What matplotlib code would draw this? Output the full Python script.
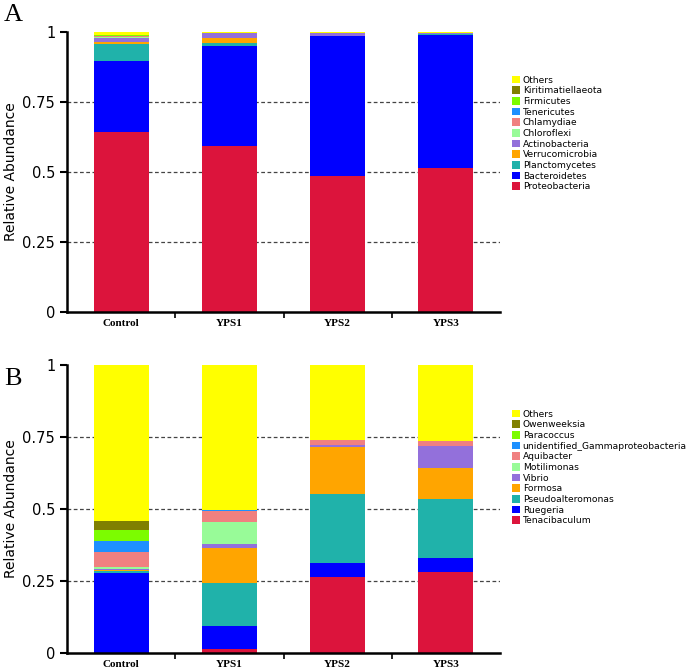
"""
Relative abundance stacked bars: phylum level (A) and genus level (B)
"""
import matplotlib.pyplot as plt
from matplotlib.patches import Patch
import numpy as np

samples = ['Control', 'YPS1', 'YPS2', 'YPS3']

# Panel A - phyla (bottom to top)
phyla = ['Proteobacteria', 'Bacteroidetes', 'Planctomycetes', 'Verrucomicrobia',
         'Actinobacteria', 'Chloroflexi', 'Chlamydiae', 'Tenericutes',
         'Firmicutes', 'Kiritimatiellaeota', 'Others']
proteobacteria = [0.643, 0.594, 0.486, 0.515]
bacteroidetes = [0.253, 0.357, 0.500, 0.476]
planctomycetes = [0.062, 0.008, 0.001, 0.003]
verrucomicrobia = [0.005, 0.020, 0.000, 0.000]
actinobacteria = [0.014, 0.016, 0.010, 0.002]
chloroflexi = [0.006, 0.001, 0.001, 0.001]
chlamydiae = [0.003, 0.001, 0.000, 0.000]
tenericutes = [0.001, 0.000, 0.000, 0.000]
firmicutes = [0.002, 0.001, 0.000, 0.000]
kiritimatiellaeota = [0.001, 0.000, 0.000, 0.000]
others_a = [0.010, 0.002, 0.002, 0.003]
phyla_values = [proteobacteria, bacteroidetes, planctomycetes, verrucomicrobia,
                actinobacteria, chloroflexi, chlamydiae, tenericutes,
                firmicutes, kiritimatiellaeota, others_a]

# Panel B - genera (bottom to top)
genera = ['Tenacibaculum', 'Ruegeria', 'Pseudoalteromonas', 'Formosa', 'Vibrio',
          'Motilimonas', 'Aquibacter', 'unidentified_Gammaproteobacteria',
          'Paracoccus', 'Owenweeksia', 'Others']
tenacibaculum = [0.000, 0.013, 0.265, 0.282]
ruegeria = [0.277, 0.081, 0.049, 0.047]
pseudoalteromonas = [0.006, 0.148, 0.239, 0.205]
formosa = [0.006, 0.124, 0.161, 0.108]
vibrio = [0.004, 0.013, 0.009, 0.078]
motilimonas = [0.007, 0.077, 0.000, 0.000]
aquibacter = [0.052, 0.037, 0.015, 0.017]
gammaproteobacteria = [0.037, 0.002, 0.000, 0.000]
paracoccus = [0.038, 0.000, 0.000, 0.000]
owenweeksia = [0.031, 0.000, 0.000, 0.000]
others_b = [0.542, 0.505, 0.262, 0.263]
genera_values = [tenacibaculum, ruegeria, pseudoalteromonas, formosa, vibrio,
                 motilimonas, aquibacter, gammaproteobacteria, paracoccus,
                 owenweeksia, others_b]

colors = ['#DC143C', '#0000FF', '#20B2AA', '#FFA500', '#9370DB', '#98FB98',
          '#F08080', '#1E90FF', '#7CFC00', '#808000', '#FFFF00']


def draw_panel(fig, rect, names, values, legend_top, letter, letter_y):
    ax = fig.add_axes(rect)
    x = np.arange(len(samples))
    for yv in [0.25, 0.5, 0.75]:
        ax.axhline(yv, color='#444444', linestyle=(0, (3, 2)), linewidth=0.9, zorder=0)
    bottom = np.zeros(len(samples))
    for vals, c in zip(values, colors):
        ax.bar(x, vals, width=0.51, bottom=bottom, color=c, linewidth=0, zorder=2)
        bottom += np.array(vals)

    ax.set_xlim(-0.5, 3.5)
    ax.set_ylim(0, 1)
    ax.set_yticks([0, 0.25, 0.5, 0.75, 1])
    ax.set_yticklabels(['0', '0.25', '0.5', '0.75', '1'])
    ax.tick_params(axis='y', labelsize=10.5, length=5, width=1.5, direction='out')
    ax.set_xticks(x)
    ax.set_xticklabels(samples, fontfamily='Liberation Serif', fontweight='bold', fontsize=8)
    ax.tick_params(axis='x', which='major', length=0, pad=5)
    ax.set_xticks([0.5, 1.5, 2.5], minor=True)
    ax.tick_params(axis='x', which='minor', length=4, width=1.2, direction='out')
    ax.set_ylabel('Relative Abundance', fontsize=10, labelpad=3)
    for s in ['top', 'right']:
        ax.spines[s].set_visible(False)
    ax.spines['left'].set_linewidth(1.8)
    ax.spines['bottom'].set_linewidth(1.8)

    handles = [Patch(facecolor=c, edgecolor='none') for c in colors]
    fig.legend(handles[::-1], names[::-1], loc='upper left',
               bbox_to_anchor=(508 / 694, legend_top), frameon=False,
               fontsize=6.6, handlelength=0.9, handleheight=0.9,
               handletextpad=0.3, labelspacing=0.18, borderaxespad=0)

    fig.text(4 / 694, letter_y, letter, fontfamily='Liberation Serif', fontsize=19,
             va='top', ha='left')
    return ax


fig = plt.figure(figsize=(6.94, 6.72), dpi=100)

draw_panel(fig, [67 / 694, 1 - 312 / 672, 433 / 694, 280 / 672],
           phyla, phyla_values, 1 - 72 / 672, 'A', 1 - 4 / 672)
draw_panel(fig, [67 / 694, 1 - 653 / 672, 433 / 694, 288 / 672],
           genera, genera_values, 1 - 406 / 672, 'B', 1 - 368 / 672)

fig.savefig('out.png', dpi=100)
